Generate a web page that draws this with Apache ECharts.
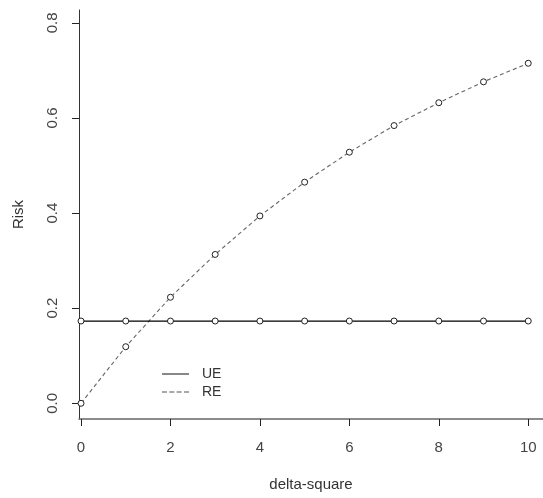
<!DOCTYPE html>
<html>
<head>
<meta charset="utf-8">
<script src="https://cdn.jsdelivr.net/npm/echarts@6/dist/echarts.min.js"></script>
<style>
html,body{margin:0;padding:0;background:#fff;}
#chart{width:543px;height:498px;}
</style>
</head>
<body>
<div id="chart"></div>
<script>
var deltaSquare = [0, 1, 2, 3, 4, 5, 6, 7, 8, 9, 10];
var ueRisk = [0.173, 0.173, 0.173, 0.173, 0.173, 0.173, 0.173, 0.173, 0.173, 0.173, 0.173];
var reRisk = [0.000, 0.119, 0.223, 0.313, 0.394, 0.465, 0.528, 0.584, 0.632, 0.676, 0.715];
var xTicks = [0, 2, 4, 6, 8, 10];
var yTicks = [0, 0.2, 0.4, 0.6, 0.8];
var seriesNames = ['UE', 'RE'];

function pairs(xs, ys) { return xs.map(function (x, i) { return [x, ys[i]]; }); }

var FONT = 'Liberation Sans, Arial, sans-serif';
var chart = echarts.init(document.getElementById('chart'), null, {renderer: 'canvas'});
chart.setOption({
  animation: false,
  backgroundColor: '#fff',
  grid: {left: 79, top: 10, right: 0, bottom: 79, containLabel: false},
  xAxis: {
    type: 'value', min: -0.045, max: 10.33,
    name: 'delta-square', nameLocation: 'middle', nameGap: 58,
    nameTextStyle: {fontFamily: FONT, fontSize: 15, color: '#333'},
    axisLine: {show: true, onZero: false, lineStyle: {color: '#666', width: 1.5}},
    axisTick: {show: true, length: 7, customValues: xTicks, lineStyle: {color: '#222', width: 1}},
    axisLabel: {customValues: xTicks, margin: 21, fontFamily: FONT, fontSize: 15, color: '#444'},
    splitLine: {show: false}
  },
  yAxis: {
    type: 'value', min: -0.033, max: 0.827,
    name: 'Risk', nameLocation: 'middle', nameGap: 53,
    nameTextStyle: {fontFamily: FONT, fontSize: 15, color: '#333'},
    axisLine: {show: true, onZero: false, lineStyle: {color: '#333', width: 1}},
    axisTick: {show: true, length: 7, customValues: yTicks, lineStyle: {color: '#222', width: 1}},
    axisLabel: {customValues: yTicks, rotate: 90, margin: 19, fontFamily: FONT, fontSize: 15, color: '#444',
      formatter: function (v) { return v.toFixed(1); }},
    splitLine: {show: false}
  },
  legend: {
    orient: 'vertical', left: 157, top: 362, itemGap: 4,
    itemWidth: 27, itemHeight: 1,
    textStyle: {fontFamily: FONT, fontSize: 14, color: '#333', padding: [0, 0, 0, 8]},
    data: [
      {name: seriesNames[0], icon: 'path://M0,0h27v1h-27z', itemStyle: {color: '#111', borderWidth: 0}},
      {name: seriesNames[1], icon: 'path://M0,0h5v1h-5zM7.3,0h5v1h-5zM14.6,0h5v1h-5zM22,0h5v1h-5z', itemStyle: {color: '#555', borderWidth: 0}}
    ]
  },
  series: [
    {
      name: seriesNames[0], type: 'line', data: pairs(deltaSquare, ueRisk),
      symbol: 'circle', symbolSize: 6, showAllSymbol: true,
      lineStyle: {color: '#000', width: 1.2, type: 'solid'},
      itemStyle: {color: '#fff', borderColor: '#222', borderWidth: 1},
      emphasis: {disabled: true}, z: 3
    },
    {
      name: seriesNames[1], type: 'line', data: pairs(deltaSquare, reRisk),
      symbol: 'circle', symbolSize: 6, showAllSymbol: true,
      lineStyle: {color: '#666', width: 1.1, type: [4, 3]},
      itemStyle: {color: '#fff', borderColor: '#222', borderWidth: 1},
      emphasis: {disabled: true}, z: 2
    }
  ]
});
</script>
</body>
</html>
